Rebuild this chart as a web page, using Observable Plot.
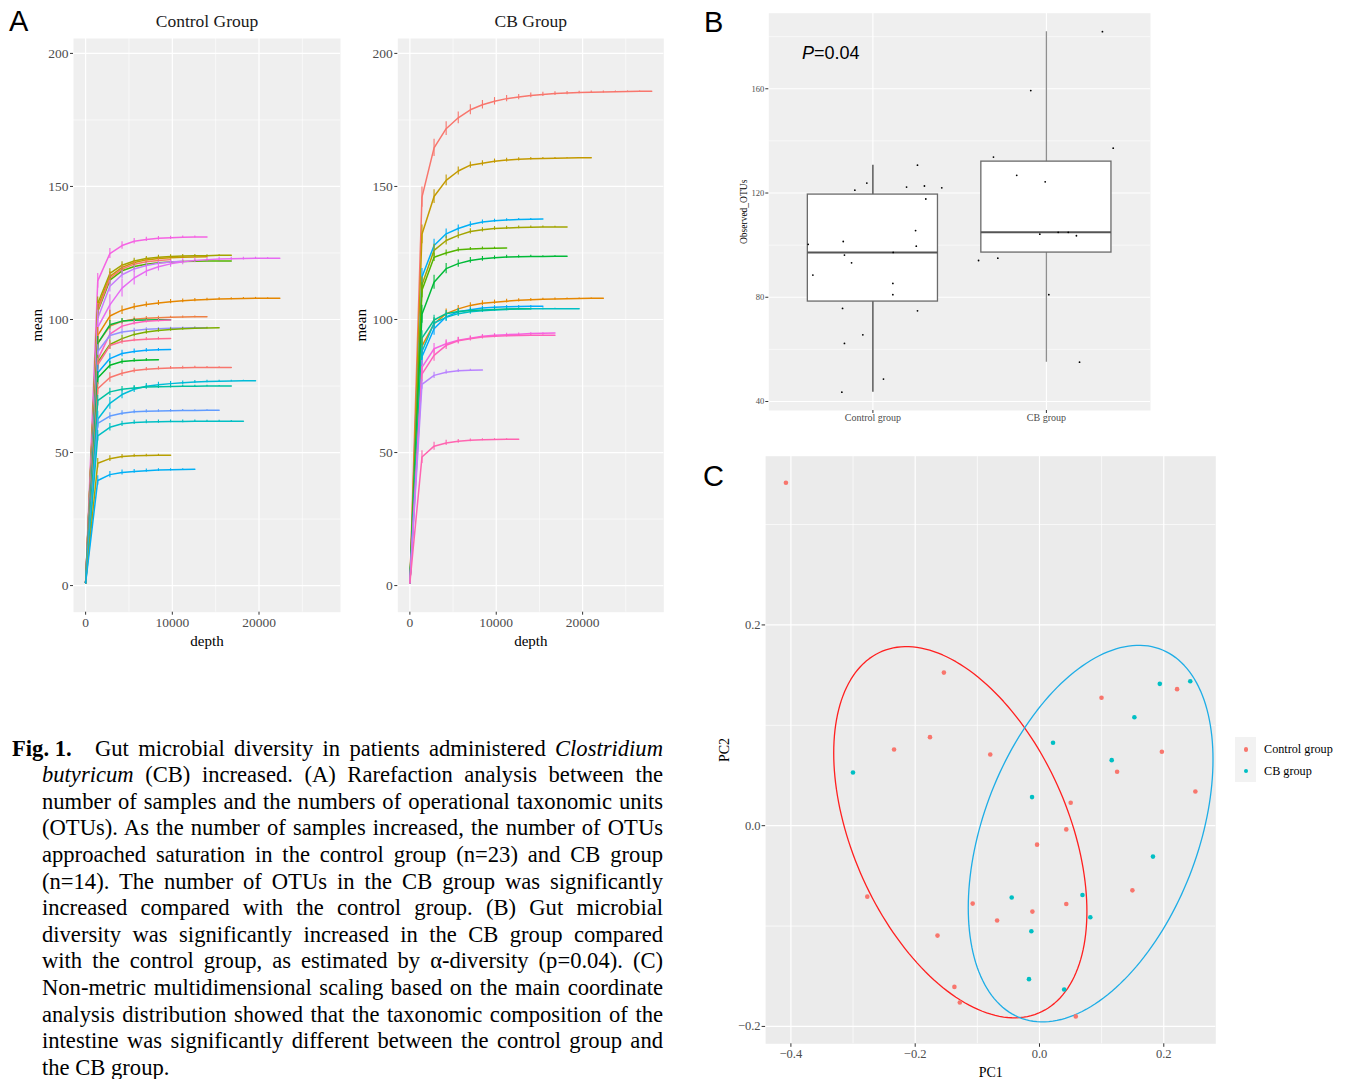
<!DOCTYPE html>
<html><head><meta charset="utf-8">
<script src="https://cdn.jsdelivr.net/npm/d3@7"></script>
<script src="https://cdn.jsdelivr.net/npm/@observablehq/plot@0.6"></script>
<style>
body{margin:0;background:#fff;}
#root{position:relative;width:1350px;height:1079px;overflow:hidden;background:#fff;}
.panel{position:absolute;}
.lbl{position:absolute;font-family:"Liberation Sans",Arial,sans-serif;font-size:29px;line-height:1;color:#000;}
.cap{position:absolute;font-family:"Liberation Serif","Times New Roman",serif;font-size:22.6px;line-height:26.6px;height:26.6px;text-align:justify;text-align-last:justify;white-space:nowrap;color:#000;}
.cap.last{text-align-last:left;}
.leg{position:absolute;font-family:"Liberation Serif","Times New Roman",serif;font-size:12.2px;line-height:1;color:#000;}
</style></head>
<body><div id="root">
<div class="lbl" style="left:9px;top:7px;">A</div>
<div class="lbl" style="left:704px;top:8px;">B</div>
<div class="lbl" style="left:703px;top:462px;">C</div>
<div id="pA1" class="panel" style="left:0;top:0;"></div>
<div id="pA2" class="panel" style="left:340px;top:0;"></div>
<div id="pB" class="panel" style="left:700px;top:0;"></div>
<div id="pC" class="panel" style="left:700px;top:440px;"></div>
<div style="position:absolute;left:802px;top:44px;font-family:'Liberation Sans',Arial,sans-serif;font-size:18px;line-height:1;color:#000;"><i>P</i>=0.04</div>
<div id="legend"></div>
<div id="caption"></div>
</div>
<script>
// ---------------- Panel A data: rarefaction curves ----------------
const depths = [1, 1400, 2800, 4200, 5600, 7000, 8400, 9800, 11200, 12600, 14000, 15400, 16800, 18200, 19600, 21000, 22400, 23800, 25200, 26600, 28000];

const controlValues = [
  [1,114.5,124.8,127.8,129.4,130.1,130.5,130.7,130.9,131,131],
  [1,106,117.3,120.4,122,122.9,123.4,123.7,123.9,124,124,124.1,124.1],
  [1,104.5,116.2,119.6,121.4,122.4,122.9,123.2,123.4,123.5,123.6],
  [1,103,114.8,118.3,119.9,120.8,121.3,121.6,121.8,121.9,122,122,122],
  [1,103.5,115.5,119,120.8,121.7,122.2,122.5],
  [1,100.5,112.5,116.8,119,120.3,121.1,121.6,121.9],
  [1,97,105.5,111.8,115.6,118.2,119.8,120.9,121.7,122.2,122.5,122.7,122.8,122.9,123,123,123],
  [1,94,101.3,103.5,104.8,105.6,106.2,106.7,107,107.3,107.5,107.7,107.8,107.9,108,108,108],
  [1,91,97.5,99.3,100.1,100.5,100.7,100.8,100.9,101,101],
  [1,91,98,99.4,99.7,99.8,99.9,99.9],
  [1,85,94.5,97.5,98.7,99.3,99.6,99.8],
  [1,88,94,95.3,95.9,96.3,96.5,96.7,96.8,96.9,96.9],
  [1,84,90.6,92.8,94.4,95.3,95.9,96.2,96.5,96.7,96.8,96.9],
  [1,83,90.2,91.7,92.3,92.6,92.8,92.9],
  [1,80,85.3,87.2,88,88.4,88.6,88.7],
  [1,78,82.8,84.2,84.6,84.8,84.9],
  [1,74,78.2,79.8,80.8,81.3,81.6,81.8,81.9,82,82,82,82],
  [1,62.5,68.5,71.8,73.8,74.9,75.5,75.9,76.2,76.5,76.7,76.8,76.9,77,77],
  [1,69.5,72.8,73.8,74.3,74.6,74.7,74.8,74.9,74.9,75,75,75],
  [1,61,63.7,64.8,65.3,65.5,65.6,65.7,65.8,65.8,65.9,65.9],
  [1,56.3,59.5,60.8,61.3,61.5,61.6,61.7,61.7,61.8,61.8,61.8,61.8,61.8],
  [1,46,47.7,48.5,48.8,48.9,49,49],
  [1,39.5,41.7,42.5,42.9,43.2,43.4,43.5,43.6,43.7]
];
const controlSd = [
  [0,2.8,1.9,1.4,1.0,0.8,0.7,0.6,0.5,0.4,0],
  [0,2.5,1.8,1.3,1.0,0.8,0.7,0.6,0.5,0.4,0.3,0.2,0],
  [0,2.4,1.7,1.2,0.9,0.8,0.6,0.5,0.4,0.3,0],
  [0,2.6,1.8,1.3,1.0,0.8,0.7,0.6,0.5,0.4,0.3,0.2,0],
  [0,2.5,1.7,1.2,0.9,0.7,0.5,0],
  [0,3.0,2.2,1.6,1.2,0.9,0.7,0.5,0],
  [0,4.2,3.8,3.3,2.6,2.0,1.6,1.3,1.1,0.9,0.8,0.7,0.6,0.5,0.4,0.3,0],
  [0,3.0,2.2,1.6,1.2,1.0,0.9,0.8,0.7,0.6,0.5,0.5,0.4,0.4,0.3,0.2,0],
  [0,2.5,1.5,1.0,0.8,0.6,0.5,0.4,0.4,0.3,0],
  [0,2.6,1.6,1.0,0.7,0.5,0.4,0],
  [0,3.0,1.8,1.2,0.9,0.6,0.5,0],
  [0,2.5,1.5,1.0,0.8,0.6,0.5,0.4,0.4,0.3,0],
  [0,2.6,1.8,1.3,1.0,0.8,0.7,0.6,0.5,0.4,0.3,0],
  [0,2.4,1.5,1.0,0.7,0.6,0.5,0],
  [0,2.8,1.8,1.2,0.9,0.7,0.5,0],
  [0,2.4,1.4,1.0,0.7,0.5,0],
  [0,2.2,1.8,1.2,0.9,0.7,0.6,0.5,0.5,0.4,0.3,0.2,0],
  [0,3.0,2.2,1.6,1.2,1.0,0.9,0.8,0.7,0.6,0.5,0.4,0.3,0.2,0],
  [0,2.0,1.4,1.0,0.8,0.7,0.6,0.5,0.4,0.4,0.3,0.2,0],
  [0,2.0,1.3,0.9,0.7,0.6,0.5,0.5,0.4,0.3,0.2,0],
  [0,2.0,1.4,1.0,0.8,0.7,0.6,0.5,0.5,0.4,0.3,0.3,0.2,0],
  [0,1.8,1.1,0.8,0.6,0.5,0.4,0],
  [0,1.8,1.2,0.9,0.7,0.6,0.5,0.4,0.3,0]
];
const controlColors = ["#F564E3","#A3A500","#C49A00","#53B400","#F8766D","#C77CFF","#E76BF3","#E58700","#EE8044","#00BA38","#FF62BC","#9590FF","#7CAE00","#FF6C91","#00A9FF","#00B92A","#F8766D","#00BCD8","#00C1A3","#619CFF","#00BFC4","#B79F00","#00B0F6"];

const cbValues = [
  [1,146,164.5,171.7,175.8,178.8,180.7,182,183,183.6,184.2,184.6,184.9,185.1,185.3,185.4,185.5,185.6,185.7,185.8,185.8],
  [1,132,146.2,152.3,155.8,158,158.7,159.5,159.9,160.2,160.4,160.5,160.6,160.7,160.8,160.8],
  [1,116,127.8,132.2,134.2,135.7,136.6,137.1,137.4,137.6,137.7,137.8],
  [1,113,126,129.7,131.6,133.1,133.7,134.2,134.4,134.6,134.7,134.8,134.8,134.8],
  [1,111,123.4,125,126.2,126.5,126.7,126.8,126.9],
  [1,102,114,119.1,121,122.2,122.8,123.2,123.5,123.6,123.7,123.7,123.8,123.8],
  [1,90,98.4,102.2,104,105.3,106.1,106.5,106.9,107.2,107.4,107.6,107.7,107.8,107.9,108,108],
  [1,86,96.5,101,102.9,103.7,104.3,104.6,104.8,104.9,105,105],
  [1,88,98.7,100.8,102.2,102.9,103.3,103.6,103.8,103.9,104,104,104,104,104],
  [1,93,99.8,102.2,103,103.4,103.6,103.8,103.9,104,104],
  [1,82,89,90.9,92.2,93,93.7,94.1,94.3,94.5,94.7,94.8,94.9],
  [1,79.5,86.5,90.3,92,92.8,93.4,93.7,93.9,94,94.1,94.1,94.1],
  [1,75.6,79,80.2,80.7,80.9,81],
  [1,48.3,52.4,53.6,54.2,54.6,54.8,54.9,55,55]
];
const cbSd = [
  [0,3.8,3.2,2.6,2.2,1.9,1.6,1.4,1.2,1.0,0.9,0.8,0.7,0.6,0.5,0.5,0.4,0.3,0.2,0.1,0],
  [0,3.5,2.6,2.0,1.5,1.2,1.0,0.8,0.7,0.6,0.5,0.4,0.3,0.2,0.1,0],
  [0,3.2,2.4,1.8,1.3,1.0,0.8,0.6,0.5,0.4,0.3,0],
  [0,3.0,2.3,1.7,1.3,1.0,0.8,0.7,0.6,0.5,0.4,0.3,0.2,0],
  [0,2.8,1.6,1.1,0.8,0.6,0.5,0.4,0],
  [0,3.4,2.6,1.9,1.4,1.1,0.9,0.7,0.6,0.5,0.4,0.3,0.2,0],
  [0,3.0,2.2,1.7,1.3,1.0,0.9,0.8,0.7,0.6,0.5,0.4,0.4,0.3,0.2,0.1,0],
  [0,3.2,2.4,1.7,1.2,0.9,0.7,0.6,0.5,0.4,0.3,0],
  [0,2.8,2.0,1.5,1.1,0.9,0.7,0.6,0.5,0.4,0.4,0.3,0.2,0.1,0],
  [0,2.8,1.8,1.2,0.9,0.7,0.6,0.5,0.4,0.3,0],
  [0,2.6,2.0,1.5,1.1,0.8,0.7,0.6,0.5,0.4,0.3,0.2,0],
  [0,2.8,2.2,1.6,1.2,0.9,0.7,0.6,0.5,0.4,0.3,0.2,0],
  [0,1.8,1.2,0.8,0.6,0.4,0],
  [0,2.4,1.5,1.0,0.7,0.5,0.4,0.3,0.2,0]
];
const cbColors = ["#F8766D","#C49A00","#00B0F6","#A3A500","#53B400","#00BA38","#E58700","#00A9FF","#00BFC4","#00C08B","#F564E3","#FF62BC","#B983FF","#FF64B0"];

const facetTitles = ["Control Group", "CB Group"];
const depthTicks = [0, 10000, 20000];
const depthMinor = [5000, 15000, 25000];
const meanTicks = [0, 50, 100, 150, 200];
const meanMinor = [25, 75, 125, 175];

// ---------------- Panel B data: observed OTUs ----------------
const groups = ["Control group", "CB group"];
const controlOTUs = [100.3,88.5,101.4,96.2,93.2,121.1,123.8,130.7,122.3,122.7,122,117.7,105.6,99.6,97.2,85.3,81,75.7,74.8,65.6,62.3,48.6,43.6];
const controlJitter = [-0.373,-0.346,-0.171,-0.164,-0.123,-0.104,-0.035,0.257,0.194,0.297,0.397,0.305,0.246,0.25,0.117,0.115,0.115,-0.175,0.257,-0.058,-0.164,0.061,-0.179];
const cbOTUs = [133.8,159.3,181.9,137.2,126.8,124.3,104.2,104.9,104.9,103.6,94.1,95,81,55.1];
const cbJitter = [-0.305,-0.09,0.323,0.385,-0.171,-0.007,-0.038,0.068,0.126,0.173,-0.391,-0.28,0.014,0.191];
const otuTicks = [40, 80, 120, 160];
const otuMinor = [60, 100, 140, 180];

// ---------------- Panel C data: PCoA ----------------
const controlPC1 = [-0.408,-0.1538,0.0998,0.2214,-0.1762,-0.234,-0.0792,0.1969,0.1249,0.2508,0.0502,0.0431,-0.0039,-0.2771,0.1495,-0.1075,0.0431,-0.0114,-0.0682,-0.1641,-0.1369,-0.1282,0.0584];
const controlPC2 = [0.3416,0.1525,0.1274,0.136,0.0882,0.0759,0.0709,0.0736,0.0537,0.0341,0.0229,-0.0037,-0.0189,-0.0707,-0.0644,-0.0776,-0.078,-0.0856,-0.0945,-0.1095,-0.1606,-0.1761,-0.19];
const cbPC1 = [0.1936,0.2426,0.1527,0.0218,0.1162,-0.3001,-0.012,0.1826,-0.0447,0.0692,0.0818,-0.0131,-0.0169,0.0397];
const cbPC2 = [0.1413,0.1439,0.1081,0.0826,0.0653,0.053,0.0285,-0.0308,-0.0716,-0.069,-0.0912,-0.1052,-0.1529,-0.1632];
// confidence ellipses (centre, half extents, covariance term) for control and CB
const ellipseCX = [-0.1274, 0.0823];
const ellipseCY = [-0.0065, -0.0079];
const ellipseHX = [0.2037, 0.1969];
const ellipseHY = [0.1849, 0.1876];
const ellipseSXY = [-0.01607, 0.01454];
const pcMajor = [-0.4, -0.2, 0, 0.2];
const pcMinorX = [-0.3, -0.1, 0.1];
const pcMajorY = [-0.2, 0, 0.2];
const pcMinorY = [-0.1, 0.1, 0.3];

// ---------------- helpers ----------------
const GRID = "#FFFFFF";
const serif = '"Liberation Serif","Times New Roman",serif';

function rarePanel(values, sds, colors, title, width, marginLeft, marginRight) {
  const rows = [];
  values.forEach((vals, i) => vals.forEach((v, k) => rows.push({id: i, depth: depths[k], mean: v, sd: (sds[i] && sds[i][k]) || 0, color: colors[i]})));
  return Plot.plot({
    width, height: 660, marginLeft, marginRight, marginTop: 38, marginBottom: 48.3,
    x: {domain: [-1398, 29400]},
    y: {domain: [-10, 205.6]},
    color: {type: "identity"},
    style: {fontFamily: serif, fontSize: "13px", color: "#4D4D4D", background: "transparent", overflow: "visible"},
    marks: [
      Plot.frame({fill: "#EFEFEF", stroke: "none"}),
      Plot.gridY({ticks: meanMinor, stroke: GRID, strokeOpacity: 1, strokeWidth: 0.6}),
      Plot.gridX({ticks: depthMinor, stroke: GRID, strokeOpacity: 1, strokeWidth: 0.6}),
      Plot.gridY({ticks: meanTicks, stroke: GRID, strokeOpacity: 1, strokeWidth: 1.2}),
      Plot.gridX({ticks: depthTicks, stroke: GRID, strokeOpacity: 1, strokeWidth: 1.2}),
      Plot.axisY({ticks: meanTicks, tickSize: 3, tickPadding: 2, label: null, fontSize: 13.5, stroke: "#333", fill: "#4D4D4D"}),
      Plot.axisX({ticks: depthTicks, tickSize: 3, tickPadding: 2, label: null, fontSize: 13.5, stroke: "#333", fill: "#4D4D4D", tickFormat: d => String(d)}),
      Plot.line(rows, {x: "depth", y: "mean", z: "id", stroke: "color", strokeWidth: 1.5}),
      Plot.ruleX(rows.filter(d => d.sd > 0), {x: "depth", y1: d => d.mean - d.sd, y2: d => d.mean + d.sd, stroke: "color", strokeWidth: 1.1}),
      Plot.text([title], {text: d => d, frameAnchor: "top", lineAnchor: "middle", dy: -17, fontSize: 17.5, fill: "#1A1A1A"}),
      Plot.text(["mean"], {text: d => d, frameAnchor: "left", textAnchor: "middle", lineAnchor: "middle", dx: -36.5, rotate: -90, fontSize: 15, fill: "#000"}),
      Plot.text(["depth"], {text: d => d, frameAnchor: "bottom", lineAnchor: "middle", dy: 29, fontSize: 15, fill: "#000"})
    ]
  });
}

document.getElementById("pA1").append(rarePanel(controlValues, controlSd, controlColors, facetTitles[0], 345, 73, 5));
document.getElementById("pA2").append(rarePanel(cbValues, cbSd, cbColors, facetTitles[1], 330, 57.3, 6.7));

// ---------------- Panel B ----------------
function stats(vals, pos, whiskerColor) {
  const s = vals.slice().sort(d3.ascending);
  const q1 = d3.quantile(s, 0.25), med = d3.quantile(s, 0.5), q3 = d3.quantile(s, 0.75);
  const iqr = q3 - q1;
  const lo = d3.min(s.filter(v => v >= q1 - 1.5 * iqr));
  const hi = d3.max(s.filter(v => v <= q3 + 1.5 * iqr));
  return {pos, q1, med, q3, lo, hi, whiskerColor};
}
const boxStats = [stats(controlOTUs, 1, "#3f3f3f"), stats(cbOTUs, 2, "#8f8f8f")];
const otuPoints = [
  ...controlOTUs.map((v, i) => ({x: 1 + controlJitter[i], y: v})),
  ...cbOTUs.map((v, i) => ({x: 2 + cbJitter[i], y: v}))
];
const plotB = Plot.plot({
  width: 460, height: 430, marginLeft: 68.3, marginRight: 10, marginTop: 12.7, marginBottom: 20,
  x: {domain: [0.4, 2.6]},
  y: {domain: [36.55, 189]},
  style: {fontFamily: serif, fontSize: "9px", color: "#4D4D4D", background: "transparent", overflow: "visible"},
  marks: [
    Plot.frame({fill: "#EFEFEF", stroke: "none"}),
    Plot.gridY({ticks: otuMinor, stroke: GRID, strokeOpacity: 1, strokeWidth: 0.6}),
    Plot.gridY({ticks: otuTicks, stroke: GRID, strokeOpacity: 1, strokeWidth: 1.1}),
    Plot.gridX({ticks: [1, 2], stroke: GRID, strokeOpacity: 1, strokeWidth: 1.1}),
    Plot.axisY({ticks: otuTicks, tickSize: 3, tickPadding: 1.5, label: null, fontSize: 8.5, stroke: "#333", fill: "#4D4D4D"}),
    Plot.axisX({ticks: [1, 2], tickSize: 3, tickPadding: 0.5, label: null, fontSize: 10, stroke: "#333", fill: "#4D4D4D", tickFormat: d => groups[d - 1]}),
    Plot.ruleX(boxStats, {x: "pos", y1: "lo", y2: "hi", stroke: d => d.whiskerColor, strokeWidth: 1.3}),
    Plot.rect(boxStats, {x1: d => d.pos - 0.375, x2: d => d.pos + 0.375, y1: "q1", y2: "q3", fill: "#fff", stroke: "#6a6a6a", strokeWidth: 1.3}),
    Plot.ruleY(boxStats, {y: "med", x1: d => d.pos - 0.375, x2: d => d.pos + 0.375, stroke: "#555", strokeWidth: 2}),
    Plot.dot(otuPoints, {x: "x", y: "y", r: 0.9, fill: "#000", stroke: "none"}),
    Plot.text(["Observed_OTUs"], {text: d => d, frameAnchor: "left", textAnchor: "middle", lineAnchor: "middle", dx: -25, rotate: -90, fontSize: 9.5, fill: "#000"})
  ]
});
document.getElementById("pB").append(plotB);

// ---------------- Panel C ----------------
const groupColors = ["#F8766D", "#00BFC4"];
const ellipseColors = ["#FF1F1F", "#1EADE6"];
const pcPoints = [
  ...controlPC1.map((v, i) => ({g: 0, x: v, y: controlPC2[i]})),
  ...cbPC1.map((v, i) => ({g: 1, x: v, y: cbPC2[i]}))
];
function ellipsePath(g) {
  const a = ellipseHX[g], sxy = ellipseSXY[g];
  const l21 = sxy / a;
  const l22 = Math.sqrt(ellipseHY[g] ** 2 - l21 ** 2);
  return d3.range(0, 361, 2).map(deg => {
    const t = deg * Math.PI / 180;
    return {x: ellipseCX[g] + a * Math.cos(t), y: ellipseCY[g] + l21 * Math.cos(t) + l22 * Math.sin(t)};
  });
}
const fmtPC = d => (d < 0 ? "\u2212" : "") + Math.abs(d).toFixed(1);
const plotC = Plot.plot({
  width: 650, height: 639, marginLeft: 65.1, marginRight: 134.7, marginTop: 15.7, marginBottom: 35.7,
  x: {domain: [-0.4407, 0.2837]},
  y: {domain: [-0.2173, 0.3681]},
  style: {fontFamily: serif, fontSize: "12.5px", color: "#4D4D4D", background: "transparent", overflow: "visible"},
  marks: [
    Plot.frame({fill: "#EBEBEB", stroke: "none"}),
    Plot.gridX({ticks: pcMinorX, stroke: GRID, strokeOpacity: 1, strokeWidth: 0.7}),
    Plot.gridY({ticks: pcMinorY, stroke: GRID, strokeOpacity: 1, strokeWidth: 0.7}),
    Plot.gridX({ticks: pcMajor, stroke: GRID, strokeOpacity: 1, strokeWidth: 1.2}),
    Plot.gridY({ticks: pcMajorY, stroke: GRID, strokeOpacity: 1, strokeWidth: 1.2}),
    Plot.axisY({ticks: pcMajorY, tickSize: 3.5, tickPadding: 1.5, label: null, fontSize: 12.5, stroke: "#333", fill: "#4D4D4D", tickFormat: fmtPC}),
    Plot.axisX({ticks: pcMajor, tickSize: 3.5, tickPadding: 1.5, label: null, fontSize: 12.5, stroke: "#333", fill: "#4D4D4D", tickFormat: fmtPC}),
    Plot.line(ellipsePath(0), {x: "x", y: "y", stroke: ellipseColors[0], strokeWidth: 1.3}),
    Plot.line(ellipsePath(1), {x: "x", y: "y", stroke: ellipseColors[1], strokeWidth: 1.3}),
    Plot.dot(pcPoints.filter(d => d.g === 0), {x: "x", y: "y", r: 2.3, fill: groupColors[0], stroke: "none"}),
    Plot.dot(pcPoints.filter(d => d.g === 1), {x: "x", y: "y", r: 2.3, fill: groupColors[1], stroke: "none"}),
    Plot.text(["PC1"], {text: d => d, frameAnchor: "bottom", lineAnchor: "middle", dy: 28.5, fontSize: 14, fill: "#000"}),
    Plot.text(["PC2"], {text: d => d, frameAnchor: "left", textAnchor: "middle", lineAnchor: "middle", dx: -41.5, rotate: -90, fontSize: 14, fill: "#000"})
  ]
});
document.getElementById("pC").append(plotC);

// ---------------- legend (HTML) ----------------
const legend = document.getElementById("legend");
legend.innerHTML =
  '<div style="position:absolute;left:1235px;top:737px;width:21px;height:45px;background:#F2F2F2"></div>' +
  groups.map((g, i) =>
    `<div style="position:absolute;left:${1243.7}px;top:${747 + i * 21.7}px;width:4.6px;height:4.6px;border-radius:50%;background:${groupColors[i]}"></div>` +
    `<div class="leg" style="left:1264px;top:${743 + i * 21.7}px">${g}</div>`).join("");

// ---------------- caption ----------------
const captionLines = [
  '<span style="display:inline-block;width:83px;font-weight:bold;text-align:left;text-align-last:left">Fig. 1.</span>Gut microbial diversity in patients administered <i>Clostridium</i>',
  '<i>butyricum</i> (CB) increased. (A) Rarefaction analysis between the',
  'number of samples and the numbers of operational taxonomic units',
  '(OTUs). As the number of samples increased, the number of OTUs',
  'approached saturation in the control group (n=23) and CB group',
  '(n=14). The number of OTUs in the CB group was significantly',
  'increased compared with the control group. (B) Gut microbial',
  'diversity was significantly increased in the CB group compared',
  'with the control group, as estimated by \u03b1-diversity (p=0.04). (C)',
  'Non-metric multidimensional scaling based on the main coordinate',
  'analysis distribution showed that the taxonomic composition of the',
  'intestine was significantly different between the control group and',
  'the CB group.'
];
document.getElementById("caption").innerHTML = captionLines.map((t, i) => {
  const left = i === 0 ? 12 : 42;
  const w = 663 - left;
  const cls = i === captionLines.length - 1 ? "cap last" : "cap";
  return `<div class="${cls}" style="left:${left}px;top:${735.5 + i * 26.62}px;width:${w}px">${t}</div>`;
}).join("");
</script>
</body></html>
